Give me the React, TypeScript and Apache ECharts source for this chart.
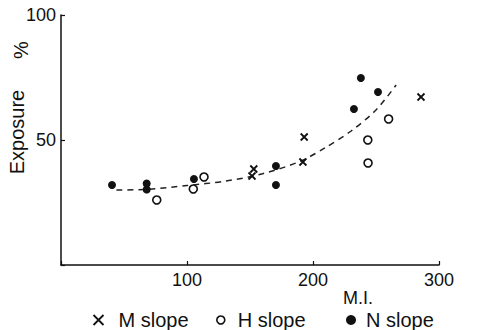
import React, { useEffect, useRef } from "react";
import * as echarts from "echarts";

const mSlope: [number, number][] = [
  [153, 38.4],
  [151.6, 35.6],
  [193, 51.2],
  [192, 41.2],
  [285.7, 67.2],
];
const hSlope: [number, number][] = [
  [76, 26],
  [105, 30.4],
  [113.5, 35.2],
  [260, 58.4],
  [243.5, 50],
  [243.7, 40.8],
];
const nSlope: [number, number][] = [
  [40.5, 32],
  [68, 32.6],
  [68, 30.2],
  [105.5, 34.4],
  [170.6, 39.6],
  [170.6, 32],
  [238, 74.8],
  [251.6, 69.2],
  [232.5, 62.4],
];
const fitCurve: [number, number][] = [
  [44, 30],
  [70, 30.3],
  [100, 31.8],
  [130, 33.5],
  [160, 36.5],
  [190, 41.5],
  [210, 47],
  [230, 53.5],
  [250, 62],
  [266, 72],
];
const xTicks = [0, 100, 200, 300];
const yTicks = [0, 50, 100];

const CROSS = "path://M0 0L10 10M10 0L0 10";
const INK = "#111";
const FONT = "Liberation Sans";

export default function App() {
  const ref = useRef<HTMLDivElement>(null);
  useEffect(() => {
    if (!ref.current) return;
    const chart = echarts.init(ref.current, undefined, { renderer: "svg" });
    const legendText = (pad: number) => ({
      fontFamily: FONT,
      fontSize: 20,
      color: INK,
      padding: [0, 0, 0, pad],
    });
    chart.setOption({
      animation: false,
      backgroundColor: "#fff",
      grid: { left: 61, right: 39, top: 15, bottom: 65 },
      xAxis: {
        type: "value",
        min: xTicks[0],
        max: xTicks[xTicks.length - 1],
        interval: 100,
        axisLine: { lineStyle: { color: INK, width: 1.5 } },
        axisTick: { inside: true, length: 4, lineStyle: { color: INK, width: 1.2 } },
        axisLabel: {
          fontFamily: FONT,
          fontSize: 18,
          color: INK,
          margin: 6,
          formatter: (v: number) => (v === 0 ? "" : String(v)),
        },
        splitLine: { show: false },
      },
      yAxis: {
        type: "value",
        min: yTicks[0],
        max: yTicks[yTicks.length - 1],
        interval: 50,
        axisLine: { show: true, lineStyle: { color: INK, width: 1.5 } },
        axisTick: { show: true, inside: true, length: 4, lineStyle: { color: INK, width: 1.2 } },
        axisLabel: {
          fontFamily: FONT,
          fontSize: 18,
          color: INK,
          margin: 5,
          formatter: (v: number) => (v === 0 ? "" : String(v)),
        },
        splitLine: { show: false },
      },
      legend: [
        {
          data: [{ name: "M slope", icon: CROSS, itemStyle: { color: "none", borderColor: INK, borderWidth: 1.8, opacity: 1 } }],
          left: 86,
          top: 305,
          itemWidth: 10,
          itemHeight: 10,
          textStyle: legendText(10),
        },
        {
          data: [{ name: "H slope", icon: "circle", itemStyle: { color: "#fff", borderColor: INK, borderWidth: 1.6, opacity: 1 } }],
          left: 211,
          top: 305,
          itemWidth: 8,
          itemHeight: 8,
          textStyle: legendText(8),
        },
        {
          data: [{ name: "N slope", icon: "circle", itemStyle: { color: INK, opacity: 1 } }],
          left: 341,
          top: 305,
          itemWidth: 10,
          itemHeight: 10,
          textStyle: legendText(5),
        },
      ],
      graphic: [
        {
          type: "text",
          x: 17,
          y: 132,
          rotation: Math.PI / 2,
          style: {
            text: "Exposure",
            fontFamily: FONT,
            fontSize: 20,
            fill: INK,
            align: "center",
            verticalAlign: "middle",
          },
        },
        {
          type: "text",
          x: 21,
          y: 50,
          rotation: Math.PI / 2,
          style: {
            text: "%",
            fontFamily: FONT,
            fontSize: 20,
            fill: INK,
            align: "center",
            verticalAlign: "middle",
          },
        },
        {
          type: "text",
          x: 343,
          y: 289,
          style: { text: "M.I.", fontFamily: FONT, fontSize: 18, fill: INK },
        },
      ],
      series: [
        {
          name: "fit",
          type: "line",
          data: fitCurve,
          smooth: 0.3,
          showSymbol: false,
          silent: true,
          lineStyle: { color: "#222", width: 1.5, type: [6, 5] },
          z: 1,
        },
        {
          name: "M slope",
          type: "scatter",
          data: mSlope,
          symbol: CROSS,
          symbolSize: 7,
          itemStyle: { color: "none", borderColor: INK, borderWidth: 1.8, opacity: 1 },
          z: 3,
        },
        {
          name: "H slope",
          type: "scatter",
          data: hSlope,
          symbol: "circle",
          symbolSize: 8,
          itemStyle: { color: "#fff", borderColor: INK, borderWidth: 1.6, opacity: 1 },
          z: 3,
        },
        {
          name: "N slope",
          type: "scatter",
          data: nSlope,
          symbol: "circle",
          symbolSize: 8,
          itemStyle: { color: INK, opacity: 1 },
          z: 3,
        },
      ],
    });
    return () => chart.dispose();
  }, []);
  return (
    <div
      ref={ref}
      style={{ position: "fixed", left: 0, top: 0, width: 478, height: 330, background: "#fff" }}
    />
  );
}
